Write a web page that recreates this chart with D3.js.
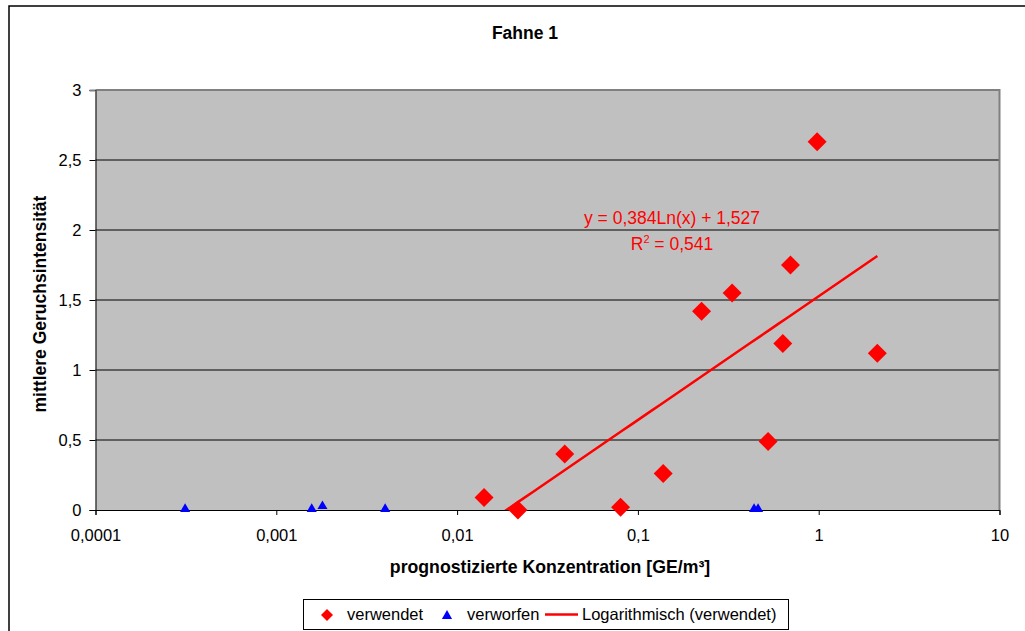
<!DOCTYPE html>
<html>
<head>
<meta charset="utf-8">
<script src="https://cdn.jsdelivr.net/npm/d3@7"></script>
<style>
  body { margin: 0; background: #fff; }
  svg text { font-family: "Liberation Sans", Arial, sans-serif; }
</style>
</head>
<body>
<div id="chart"></div>
<script>
// Data
const usedX = [0.0141, 0.0217, 0.0394, 0.0802, 0.138, 0.225, 0.332, 0.525, 0.633, 0.698, 0.98, 2.11];
const usedY = [0.09, 0, 0.40, 0.02, 0.26, 1.42, 1.55, 0.49, 1.19, 1.75, 2.63, 1.12];
const discardedX = [0.000313, 0.00157, 0.0018, 0.0040, 0.439, 0.462];
const discardedY = [0, 0, 0.02, 0, 0, 0];
const xTicks = [0.0001, 0.001, 0.01, 0.1, 1, 10];
const xTickLabels = ["0,0001", "0,001", "0,01", "0,1", "1", "10"];
const yTicks = [0, 0.5, 1, 1.5, 2, 2.5, 3];
const yTickLabels = ["0", "0,5", "1", "1,5", "2", "2,5", "3"];
const trendA = 0.384, trendB = 1.527, trendR2 = "0,541";

const W = 1025, H = 631;
const margin = { top: 90, right: 25.5, bottom: 121, left: 95.5 };
const width = W - margin.left - margin.right;
const height = H - margin.top - margin.bottom;

const svg = d3.select("#chart").append("svg")
  .attr("width", W).attr("height", H);

// Outer chart border
svg.append("rect")
  .attr("x", 9).attr("y", 6).attr("width", W + 10).attr("height", H + 10)
  .attr("fill", "none").attr("stroke", "#000").attr("stroke-width", 1.5);

// Title
svg.append("text")
  .attr("x", 525).attr("y", 39)
  .attr("text-anchor", "middle")
  .style("font-size", "17.5px").style("font-weight", "bold")
  .text("Fahne 1");

const g = svg.append("g").attr("transform", `translate(${margin.left},${margin.top})`);

const x = d3.scaleLog().domain([0.0001, 10]).range([0, width]);
const y = d3.scaleLinear().domain([0, 3]).range([height, 0]);

// Plot background
g.append("rect")
  .attr("width", width).attr("height", height)
  .attr("fill", "#c0c0c0");

// Gridlines
g.selectAll(".grid")
  .data(yTicks.filter(d => d > 0 && d < 3))
  .enter().append("line")
  .attr("x1", 0).attr("x2", width)
  .attr("y1", d => y(d)).attr("y2", d => y(d))
  .attr("stroke", "#000").attr("stroke-width", 1);

// Plot border top / right
g.append("path")
  .attr("d", `M0,0H${width}V${height}`)
  .attr("fill", "none").attr("stroke", "#808080").attr("stroke-width", 2);

// Axes
const yAxis = d3.axisLeft(y)
  .tickValues(yTicks)
  .tickSize(6)
  .tickPadding(8)
  .tickFormat((d, i) => yTickLabels[i]);

const xAxis = d3.axisBottom(x)
  .tickValues(xTicks)
  .tickSize(5)
  .tickPadding(14)
  .tickFormat((d, i) => xTickLabels[i]);

const yAxisG = g.append("g").call(yAxis);
const xAxisG = g.append("g").attr("transform", `translate(0,${height})`).call(xAxis);

[yAxisG, xAxisG].forEach(ax => {
  ax.select(".domain").attr("stroke", "#000");
  ax.selectAll(".tick line").attr("stroke", "#000");
  ax.selectAll(".tick text")
    .attr("fill", "#000")
    .style("font-size", "16.5px")
    .style("font-family", '"Liberation Sans", Arial, sans-serif');
});
yAxisG.select(".tick:last-of-type line").attr("stroke", "#808080").attr("stroke-width", 2);

// Trendline, clipped to the plot area
g.append("clipPath").attr("id", "plotClip")
  .append("rect").attr("width", width).attr("height", height);

const xMin = d3.min(usedX), xMax = d3.max(usedX);
const trendPts = d3.range(0, 41).map(i => {
  const xv = Math.exp(Math.log(xMin) + (Math.log(xMax) - Math.log(xMin)) * i / 40);
  return [xv, trendA * Math.log(xv) + trendB];
});

g.append("path")
  .datum(trendPts)
  .attr("clip-path", "url(#plotClip)")
  .attr("fill", "none")
  .attr("stroke", "#ff0000")
  .attr("stroke-width", 2.5)
  .attr("d", d3.line().x(d => x(d[0])).y(d => y(d[1])));

// Used points (diamonds)
const diamond = d3.symbol().type(d3.symbolSquare).size(180);
g.selectAll(".used")
  .data(usedX.map((d, i) => [d, usedY[i]]))
  .enter().append("path")
  .attr("d", diamond)
  .attr("transform", d => `translate(${x(d[0])},${y(d[1])}) rotate(45)`)
  .attr("fill", "#ff0000");

// Discarded points (triangles)
const tri = d3.symbol().type(d3.symbolTriangle).size(44);
g.selectAll(".disc")
  .data(discardedX.map((d, i) => [d, discardedY[i]]))
  .enter().append("path")
  .attr("d", tri)
  .attr("transform", d => `translate(${x(d[0])},${y(d[1]) - 1})`)
  .attr("fill", "#0000ff");

// Trendline equation
const eq = svg.append("text")
  .attr("text-anchor", "middle")
  .attr("fill", "#ff0000")
  .style("font-size", "17.5px");
eq.append("tspan").attr("x", 672).attr("y", 224)
  .text(`y = ${String(trendA).replace(".", ",")}Ln(x) + ${String(trendB).replace(".", ",")}`);
const r2 = eq.append("tspan").attr("x", 672).attr("y", 250);
r2.append("tspan").text("R");
r2.append("tspan").attr("dy", -7).style("font-size", "11px").text("2");
r2.append("tspan").attr("dy", 7).text(` = ${trendR2}`);

// Axis titles
svg.append("text")
  .attr("x", 550).attr("y", 573)
  .attr("text-anchor", "middle")
  .style("font-size", "17.7px").style("font-weight", "bold")
  .text("prognostizierte Konzentration [GE/m³]");

svg.append("text")
  .attr("transform", "translate(46,304) rotate(-90)")
  .attr("text-anchor", "middle")
  .style("font-size", "17.5px").style("font-weight", "bold")
  .text("mittlere Geruchsintensität");

// Legend
const leg = svg.append("g");
leg.append("rect")
  .attr("x", 303.5).attr("y", 599.5).attr("width", 485).attr("height", 30)
  .attr("fill", "#fff").attr("stroke", "#000").attr("stroke-width", 1);

leg.append("path")
  .attr("d", d3.symbol().type(d3.symbolSquare).size(72))
  .attr("transform", "translate(327,615) rotate(45)")
  .attr("fill", "#ff0000");
leg.append("text").attr("x", 347).attr("y", 620).style("font-size", "16.5px").text("verwendet");

leg.append("path")
  .attr("d", d3.symbol().type(d3.symbolTriangle).size(45))
  .attr("transform", "translate(447,616)")
  .attr("fill", "#0000ff");
leg.append("text").attr("x", 467).attr("y", 620).style("font-size", "16.5px").text("verworfen");

leg.append("line")
  .attr("x1", 545).attr("x2", 578).attr("y1", 614.5).attr("y2", 614.5)
  .attr("stroke", "#ff0000").attr("stroke-width", 2.5);
leg.append("text").attr("x", 582).attr("y", 620).style("font-size", "16.5px").text("Logarithmisch (verwendet)");
</script>
</body>
</html>
